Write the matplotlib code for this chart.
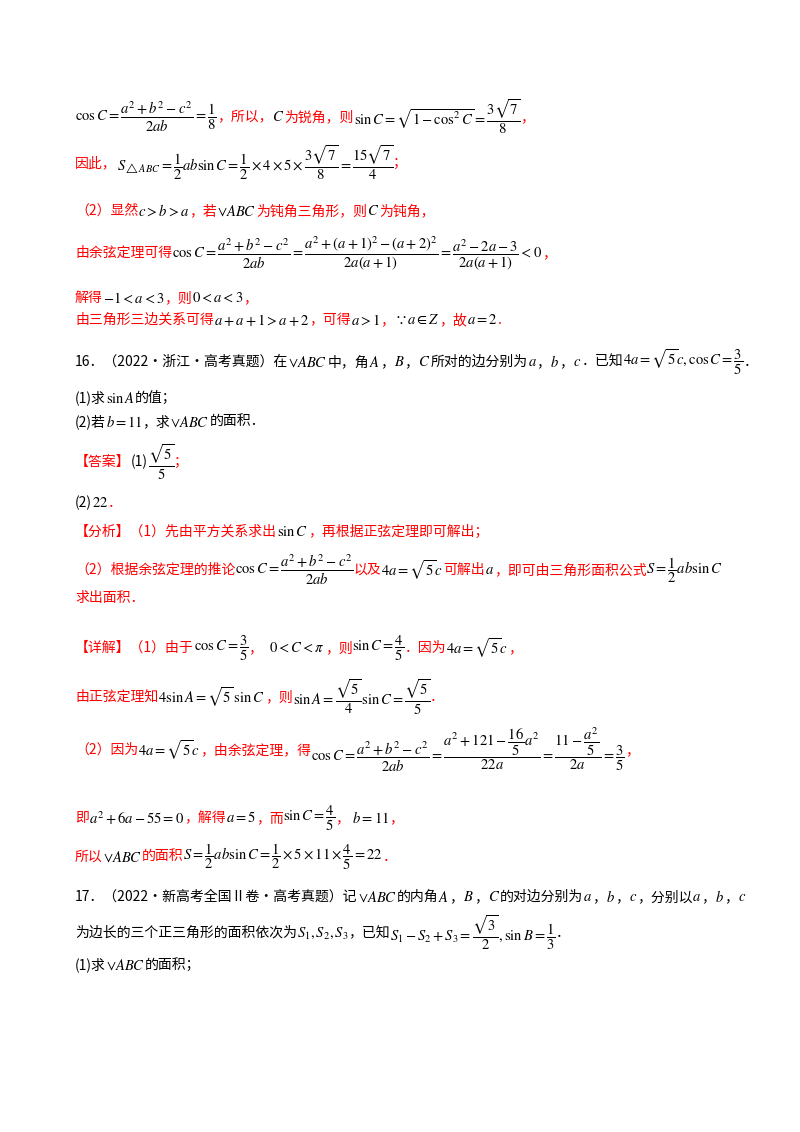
import matplotlib
matplotlib.use('Agg')
import matplotlib.pyplot as plt

plt.rcParams['font.family'] = ['Noto Sans CJK SC', 'DejaVu Sans']
plt.rcParams['mathtext.fontset'] = 'stix'

W, H = 800, 1132
fig = plt.figure(figsize=(8, 11.32), dpi=100)
fig.patch.set_facecolor('white')
ren = fig.canvas.get_renderer()

R = '#ff0000'
K = 'black'
FS = 10

lines = [
    (117, [(r'$\cos C=\dfrac{a^2+b^2-c^2}{2ab}=\dfrac{1}{8}$', K), ('，所以，', R), (r'$C$', K), ('为锐角，则', R),
           (r'$\sin C=\sqrt{1-\cos^2 C}=\dfrac{3\sqrt{7}}{8}$', K), ('，', R)]),
    (163, [('因此，', R), (r'$S_{\triangle ABC}=\dfrac{1}{2}ab\sin C=\dfrac{1}{2}\times4\times5\times\dfrac{3\sqrt{7}}{8}=\dfrac{15\sqrt{7}}{4}$', K), ('；', R)]),
    (211, [('（2）显然', R), (r'$c>b>a$', K), ('，若', R), (r'$\vee ABC$', K), ('为钝角三角形，则', R), (r'$C$', K), ('为钝角，', R)]),
    (253, [('由余弦定理可得', R), (r'$\cos C=\dfrac{a^2+b^2-c^2}{2ab}=\dfrac{a^2+\left(a+1\right)^2-\left(a+2\right)^2}{2a\left(a+1\right)}=\dfrac{a^2-2a-3}{2a\left(a+1\right)}<0$', K), ('，', R)]),
    (298, [('解得', R), (r'$-1<a<3$', K), ('，则', R), (r'$0<a<3$', K), ('，', R)]),
    (320, [('由三角形三边关系可得', R), (r'$a+a+1>a+2$', K), ('，可得', R), (r'$a>1$', K), ('，', R),
           (r'$\because a\in Z$', K), ('，故', R), (r'$a=2$', K), ('.', R)]),
    (362, [('16．（2022·浙江·高考真题）在', K), (r'$\vee ABC$', K), ('中，角', K), (r'$A$', K), ('，', K), (r'$B$', K), ('，', K),
           (r'$C$', K), ('所对的边分别为', K), (r'$a$', K), ('，', K), (r'$b$', K), ('，', K), (r'$c$', K), ('．已知', K),
           (r'$4a=\sqrt{5}c,\cos C=\dfrac{3}{5}$', K), ('．', K)]),
    (398, [('(1)求', K), (r'$\sin A$', K), ('的值；', K)]),
    (422, [('(2)若', K), (r'$b=11$', K), ('，求', K), (r'$\vee ABC$', K), ('的面积．', K)]),
    (462, [('【答案】', R), ('(1)', K), (r'$\dfrac{\sqrt{5}}{5}$', K), ('；', R)]),
    (503, [('(2)', K), (r'$22$', K), ('．', R)]),
    (532, [('【分析】（1）先由平方关系求出', R), (r'$\sin C$', K), ('，再根据正弦定理即可解出；', R)]),
    (570, [('（2）根据余弦定理的推论', R), (r'$\cos C=\dfrac{a^2+b^2-c^2}{2ab}$', K), ('以及', R), (r'$4a=\sqrt{5}c$', K),
           ('可解出', R), (r'$a$', K), ('，即可由三角形面积公式', R), (r'$S=\dfrac{1}{2}ab\sin C$', K)]),
    (598, [('求出面积．', R)]),
    (648, [('【详解】（1）由于', R), (r'$\cos C=\dfrac{3}{5}$', K), ('，', R), (r'$\ \ 0<C<\pi$', K), ('，则', R),
           (r'$\sin C=\dfrac{4}{5}$', K), ('．因为', R), (r'$4a=\sqrt{5}c$', K), ('，', R)]),
    (697, [('由正弦定理知', R), (r'$4\sin A=\sqrt{5}\,\sin C$', K), ('，则', R), (r'$\sin A=\dfrac{\sqrt{5}}{4}\sin C=\dfrac{\sqrt{5}}{5}$', K), ('．', R)]),
    (750, [('（2）因为', R), (r'$4a=\sqrt{5}c$', K), ('，由余弦定理，得', R),
           (r'$\cos C=\dfrac{a^2+b^2-c^2}{2ab}=\dfrac{a^2+121-\dfrac{16}{5}a^2}{22a}=\dfrac{11-\dfrac{a^2}{5}}{2a}=\dfrac{3}{5}$', K), ('，', R)]),
    (818, [('即', R), (r'$a^2+6a-55=0$', K), ('，解得', R), (r'$a=5$', K), ('，而', R), (r'$\sin C=\dfrac{4}{5}$', K), ('，', R),
           (r'$\ b=11$', K), ('，', R)]),
    (857, [('所以', R), (r'$\vee ABC$', K), ('的面积', R), (r'$S=\dfrac{1}{2}ab\sin C=\dfrac{1}{2}\times5\times11\times\dfrac{4}{5}=22$', K), ('．', R)]),
    (897, [('17．（2022·新高考全国Ⅱ卷·高考真题）记', K), (r'$\vee ABC$', K), ('的内角', K), (r'$A$', K), ('，', K), (r'$B$', K), ('，', K),
           (r'$C$', K), ('的对边分别为', K), (r'$a$', K), ('，', K), (r'$b$', K), ('，', K), (r'$c$', K), ('，分别以', K),
           (r'$a$', K), ('，', K), (r'$b$', K), ('，', K), (r'$c$', K)]),
    (933, [('为边长的三个正三角形的面积依次为', K), (r'$S_1,S_2,S_3$', K), ('，已知', K),
           (r'$S_1-S_2+S_3=\dfrac{\sqrt{3}}{2},\sin B=\dfrac{1}{3}$', K), ('．', K)]),
    (965, [('(1)求', K), (r'$\vee ABC$', K), ('的面积；', K)]),
]

for y, segs in lines:
    x = 75
    for s, c in segs:
        fs = 10.5 if s.startswith('$') else FS
        t = fig.text(x / W, 1 - y / H, s, color=c, fontsize=fs, va='center', ha='left')
        bb = t.get_window_extent(ren)
        x += bb.width

fig.savefig('out.png', dpi=100, facecolor='white')
